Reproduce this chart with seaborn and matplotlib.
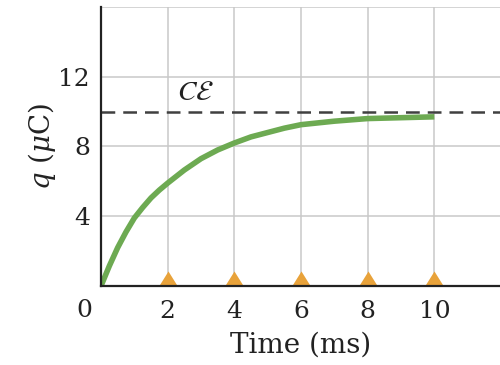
import matplotlib
matplotlib.use("Agg")
import matplotlib.pyplot as plt
import seaborn as sns
import pandas as pd

# Data
time_ms = [0, 0.25, 0.5, 0.75, 1, 1.25, 1.5, 1.75, 2, 2.5, 3, 3.5, 4, 4.5, 5, 5.5, 6, 7, 8, 9, 10]
charge_uC = [0, 1.15, 2.2, 3.1, 3.9, 4.5, 5.05, 5.5, 5.9, 6.65, 7.3, 7.8, 8.2, 8.55, 8.8, 9.05, 9.25, 9.45, 9.6, 9.65, 9.7]
marker_times = [2, 4, 6, 8, 10]
marker_vals = [0, 0, 0, 0, 0]
C_emf = 10
x_ticks = [2, 4, 6, 8, 10]
y_ticks = [4, 8, 12]

sns.set_theme(style="white")
plt.rcParams['font.family'] = ['DejaVu Serif']
plt.rcParams['mathtext.fontset'] = 'dejavuserif'

fig = plt.figure(figsize=(5, 3.65), dpi=100)
ax = fig.add_axes([0.202, 0.2164, 0.8, 0.7646])

ax.set_xlim(0, 12)
ax.set_ylim(0, 16)

# grid
for x in [2, 4, 6, 8, 10]:
    ax.axvline(x, color="#c9c9c9", lw=1.1, zorder=0)
for y in [4, 8, 12, 16]:
    ax.axhline(y, color="#c9c9c9", lw=1.1, zorder=0)

# asymptote
ax.axhline(C_emf, color="#404040", lw=1.8, dashes=(5.5, 3.2), zorder=2)

df = pd.DataFrame({"t": time_ms, "q": charge_uC})
sns.lineplot(data=df, x="t", y="q", ax=ax, color="#6daa52", lw=4, zorder=3,
             solid_joinstyle="round", solid_capstyle="butt")

tri = [(-1, 0), (1, 0), (0, 1.6)]
dm = pd.DataFrame({"t": marker_times, "v": marker_vals})
sns.scatterplot(data=dm, x="t", y="v", ax=ax, marker=tri, s=470,
                color="#e8a23a", linewidth=0, clip_on=False, zorder=4)

for s in ["top", "right"]:
    ax.spines[s].set_visible(False)
for s in ["left", "bottom"]:
    ax.spines[s].set_color("#222222")
    ax.spines[s].set_linewidth(1.6)
    ax.spines[s].set_zorder(5)

ax.set_xticks(x_ticks)
ax.set_yticks(y_ticks)
ax.tick_params(axis="both", length=0, labelsize=18, colors="#222222")
ax.tick_params(axis="x", pad=10)
ax.tick_params(axis="y", pad=8)
ax.text(-0.5, -1.4, "0", ha="center", va="center", fontsize=18, color="#222222")

ax.set_xlabel("Time (ms)", fontsize=20, color="#222222", labelpad=6)
ax.set_ylabel(r"$q$ ($\mu$C)", fontsize=20, color="#222222", labelpad=0)

ax.text(2.27, 10.3, r"$C\mathcal{E}$", fontsize=20, color="#222222",
        ha="left", va="bottom", math_fontfamily="stix")

fig.savefig("out.png", dpi=100)
